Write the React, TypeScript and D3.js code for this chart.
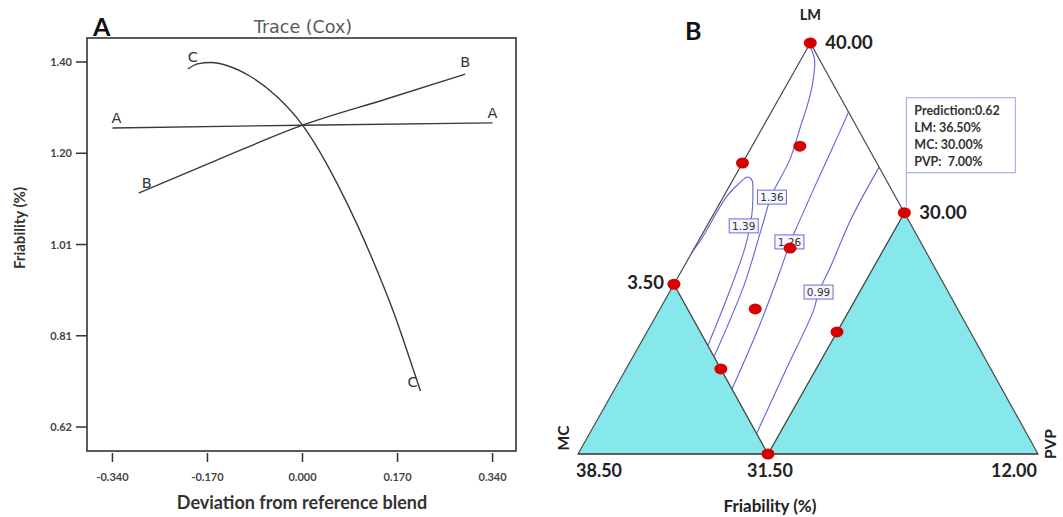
import React from 'react';
import * as d3 from 'd3';

// ---------- Panel A data (Cox trace) ----------
const devTicks = [-0.34, -0.17, 0, 0.17, 0.34];
const devTickLabels = ['-0.340', '-0.170', '0.000', '0.170', '0.340'];
const friTicks = [0.62, 0.815, 1.01, 1.205, 1.4];
const friTickLabels = ['0.62', '0.81', '1.01', '1.20', '1.40'];

const traceA: [number, number][] = [[-0.34, 1.259], [0, 1.265], [0.34, 1.27]];
const traceB: [number, number][] = [[-0.293, 1.12], [-0.15, 1.192], [0, 1.265], [0.15, 1.321], [0.291, 1.374]];
const traceC: [number, number][] = [
  [-0.205, 1.385], [-0.1875, 1.396], [-0.164, 1.399], [-0.134, 1.392], [-0.093, 1.369],
  [-0.045, 1.325], [0, 1.265], [0.027, 1.216], [0.0625, 1.139], [0.098, 1.052],
  [0.134, 0.953], [0.164, 0.862], [0.1875, 0.781], [0.211, 0.697],
];
const traceNames = ['A', 'B', 'C'];

// ---------- Panel B data (ternary, [LM, PVP] fractions) ----------
const B_MAX = 0.587; // MC upper bound (fraction of display triangle)
const C_MAX = 0.413; // PVP upper bound
const designPoints: [number, number][] = [
  [1, 0], [0.708, 0], [0.749, 0.104], [0.413, 0], [0.587, 0.413],
  [0.501, 0.208], [0.353, 0.207], [0.297, 0.413], [0.207, 0.206], [0, 0.413],
];
const contour139: [number, number][] = [
  [0.49, 0], [0.52, 0.004], [0.628, 0.007], [0.659, 0.018], [0.674, 0.028], [0.667, 0.041],
  [0.638, 0.058], [0.582, 0.084], [0.504, 0.109], [0.399, 0.129], [0.264, 0.149],
];
const contour136: [number, number][] = [
  [0.99, 0.005], [0.959, 0.03], [0.898, 0.056], [0.849, 0.07], [0.805, 0.0795],
  [0.715, 0.099], [0.63, 0.103], [0.552, 0.121], [0.411, 0.1535], [0.237, 0.176],
];
const contour126: [number, number][] = [
  [0.832, 0.168], [0.747, 0.177], [0.642, 0.187], [0.569, 0.195], [0.516, 0.201],
  [0.448, 0.214], [0.307, 0.2375], [0.158, 0.255],
];
const contour099: [number, number][] = [
  [0.698, 0.302], [0.569, 0.305], [0.455, 0.319], [0.394, 0.324], [0.35, 0.3355],
  [0.2, 0.349], [0.05, 0.363],
];
const contourLabels = ['1.36', '1.39', '1.26', '0.99'];
const contourLabelPos: [number, number][] = [[0.625, 0.106], [0.555, 0.08], [0.516, 0.199], [0.394, 0.324]];
const vertexLabels = ['40.00', '30.00', '3.50', '38.50', '31.50', '12.00'];
const predictionLines = ['Prediction:0.62', 'LM: 36.50%', 'MC: 30.00%', 'PVP:  7.00%'];

const SANS = "Lato, 'Open Sans', sans-serif";
const DEJ = "'DejaVu Sans', Verdana, sans-serif";

export default function App() {
  // Panel A scales
  const xS = d3.scaleLinear().domain([-0.3855, 0.3819]).range([87, 516]);
  const yS = d3.scaleLinear().domain([0.5688, 1.4513]).range([451, 38]);
  const traceLine = d3
    .line<[number, number]>()
    .x((d) => xS(d[0]))
    .y((d) => yS(d[1]))
    .curve(d3.curveMonotoneX);
  const traces = [traceA, traceB, traceC];
  const labelOffsets: [number, number, number, number][] = [
    [4, -5, 0, -5],
    [8, -5, 0, -7],
    [5, -7, -8, -4],
  ];

  // Panel B ternary projection
  const tx = d3.scaleLinear().domain([0, 1]).range([578, 1038]);
  const ty = d3.scaleLinear().domain([0, 1]).range([454, 43]);
  const K = 0.505;
  const proj = (p: [number, number]): [number, number] => [tx(p[1] + K * p[0]), ty(p[0])];
  const poly = (pts: [number, number][]) => pts.map((p) => proj(p).join(',')).join(' ');
  const cLine = d3
    .line<[number, number]>()
    .x((d) => proj(d)[0])
    .y((d) => proj(d)[1])
    .curve(d3.curveCatmullRom.alpha(0.5));

  const apex: [number, number] = [1, 0];
  const mcCorner: [number, number] = [0, 0];
  const pvpCorner: [number, number] = [0, 1];
  const leftPt: [number, number] = [1 - B_MAX, 0];
  const rightPt: [number, number] = [1 - C_MAX, C_MAX];
  const bottomPt: [number, number] = [0, C_MAX];

  const [apx, apy] = proj(apex);
  const [lpx, lpy] = proj(leftPt);
  const [rpx, rpy] = proj(rightPt);
  const [mcx, mcy] = proj(mcCorner);
  const [pvx, pvy] = proj(pvpCorner);
  const [bpx, bpy] = proj(bottomPt);

  const stroke = '#4a4a4a';
  const cyan = '#86e8ea';
  const blue = '#5252d6';

  return (
    <svg
      width={1063}
      height={517}
      style={{ position: 'absolute', left: 0, top: 0, background: '#fff', display: 'block' }}
    >
      {/* ---------------- Panel A ---------------- */}
      <text x={93} y={36} fontFamily={SANS} fontWeight={700} fontSize={25} fill="#111">A</text>
      <text x={303} y={33} textAnchor="middle" fontFamily={DEJ} fontSize={17.5} fill="#5a5a5a">Trace (Cox)</text>
      <rect x={87} y={38} width={429} height={413} fill="none" stroke="#333" strokeWidth={1.6} />
      {devTicks.map((t, i) => (
        <g key={'xt' + i}>
          <line x1={xS(t)} x2={xS(t)} y1={453} y2={462} stroke="#333" strokeWidth={1.5} />
          <text x={xS(t)} y={481} textAnchor="middle" fontFamily={SANS} fontWeight={700} fontSize={11} fill="#444">
            {devTickLabels[i]}
          </text>
        </g>
      ))}
      {friTicks.map((t, i) => (
        <g key={'yt' + i}>
          <line x1={76} x2={87} y1={yS(t)} y2={yS(t)} stroke="#333" strokeWidth={1.5} />
          <text x={72} y={yS(t) + 4} textAnchor="end" fontFamily={SANS} fontWeight={700} fontSize={11} fill="#444">
            {friTickLabels[i]}
          </text>
        </g>
      ))}
      <text
        transform="translate(25,228) rotate(-90)"
        textAnchor="middle"
        fontFamily={SANS}
        fontWeight={700}
        fontSize={15}
        fill="#333"
      >
        Friability (%)
      </text>
      <text x={302} y={509} textAnchor="middle" fontFamily={SANS} fontWeight={700} fontSize={18} fill="#333">
        Deviation from reference blend
      </text>
      {traces.map((tr, i) => {
        const s = tr[0];
        const e = tr[tr.length - 1];
        const o = labelOffsets[i];
        return (
          <g key={'tr' + i}>
            <path d={traceLine(tr) || ''} fill="none" stroke="#3a3a3a" strokeWidth={1.4} />
            <text x={xS(s[0]) + o[0]} y={yS(s[1]) + o[1]} textAnchor="middle" fontFamily={DEJ} fontSize={14.5} fill="#333">
              {traceNames[i]}
            </text>
            <text x={xS(e[0]) + o[2]} y={yS(e[1]) + o[3]} textAnchor="middle" fontFamily={DEJ} fontSize={14.5} fill="#333">
              {traceNames[i]}
            </text>
          </g>
        );
      })}

      {/* ---------------- Panel B ---------------- */}
      <text x={685} y={40} fontFamily={SANS} fontWeight={700} fontSize={25} fill="#111">B</text>
      <text x={apx} y={20} textAnchor="middle" fontFamily={SANS} fontWeight={700} fontSize={14.5} fill="#222">LM</text>

      <polygon points={poly([mcCorner, leftPt, bottomPt])} fill={cyan} stroke={stroke} strokeWidth={1.2} />
      <polygon points={poly([pvpCorner, rightPt, bottomPt])} fill={cyan} stroke={stroke} strokeWidth={1.2} />
      <polygon points={poly([apex, leftPt, bottomPt, rightPt])} fill="#fff" stroke={stroke} strokeWidth={1.2} />
      <line x1={mcx} y1={mcy} x2={pvx} y2={pvy} stroke={stroke} strokeWidth={1.4} />

      {[contour139, contour136, contour126, contour099].map((c, i) => (
        <path key={'c' + i} d={cLine(c) || ''} fill="none" stroke={blue} strokeWidth={1.1} opacity={0.9} />
      ))}
      {contourLabels.map((t, i) => {
        const [x, y] = proj(contourLabelPos[i]);
        return (
          <g key={'cl' + i}>
            <rect x={x - 14.5} y={y - 7} width={29} height={14} fill="#f6f6ff" stroke="#6a6ad8" strokeWidth={1} />
            <text x={x} y={y + 4} textAnchor="middle" fontFamily={DEJ} fontSize={10.5} fill="#333">
              {t}
            </text>
          </g>
        );
      })}

      {/* prediction flag */}
      <line x1={rpx + 2} y1={rpy - 40} x2={rpx + 2} y2={rpy - 6} stroke="#a0a0e0" strokeWidth={1} />
      <rect x={rpx + 2} y={rpy - 115} width={109} height={75} fill="#fff" stroke="#a0a0e0" strokeWidth={1} />
      {predictionLines.map((t, i) => (
        <text
          key={'pl' + i}
          x={rpx + 10}
          y={rpy - 98 + i * 17}
          fontFamily={SANS}
          fontWeight={700}
          fontSize={12.5}
          fill="#333"
          style={{ whiteSpace: 'pre' }}
        >
          {t}
        </text>
      ))}

      {designPoints.map((p, i) => {
        const [x, y] = proj(p);
        return <ellipse key={'dp' + i} cx={x} cy={y} rx={6.5} ry={5.5} fill="#d60000" />;
      })}

      <text x={apx + 15} y={apy + 6} fontFamily={SANS} fontWeight={700} fontSize={18.5} fill="#222">{vertexLabels[0]}</text>
      <text x={rpx + 15} y={rpy + 6} fontFamily={SANS} fontWeight={700} fontSize={18.5} fill="#222">{vertexLabels[1]}</text>
      <text x={lpx - 10} y={lpy + 5} textAnchor="end" fontFamily={SANS} fontWeight={700} fontSize={18.5} fill="#222">{vertexLabels[2]}</text>
      <text x={mcx - 2} y={mcy + 23} fontFamily={SANS} fontWeight={700} fontSize={18} fill="#222">{vertexLabels[3]}</text>
      <text x={bpx + 2} y={bpy + 23} textAnchor="middle" fontFamily={SANS} fontWeight={700} fontSize={18} fill="#222">{vertexLabels[4]}</text>
      <text x={pvx - 1} y={pvy + 23} textAnchor="end" fontFamily={SANS} fontWeight={700} fontSize={18} fill="#222">{vertexLabels[5]}</text>
      <text transform={`translate(${mcx - 9},${mcy - 16}) rotate(-90)`} textAnchor="middle" fontFamily={SANS} fontWeight={700} fontSize={15.5} fill="#222">MC</text>
      <text transform={`translate(${pvx + 18},${pvy - 10}) rotate(-90)`} textAnchor="middle" fontFamily={SANS} fontWeight={700} fontSize={15.5} fill="#222">PVP</text>
      <text x={bpx + 2} y={512} textAnchor="middle" fontFamily={SANS} fontWeight={700} fontSize={17} fill="#222">Friability (%)</text>
    </svg>
  );
}
